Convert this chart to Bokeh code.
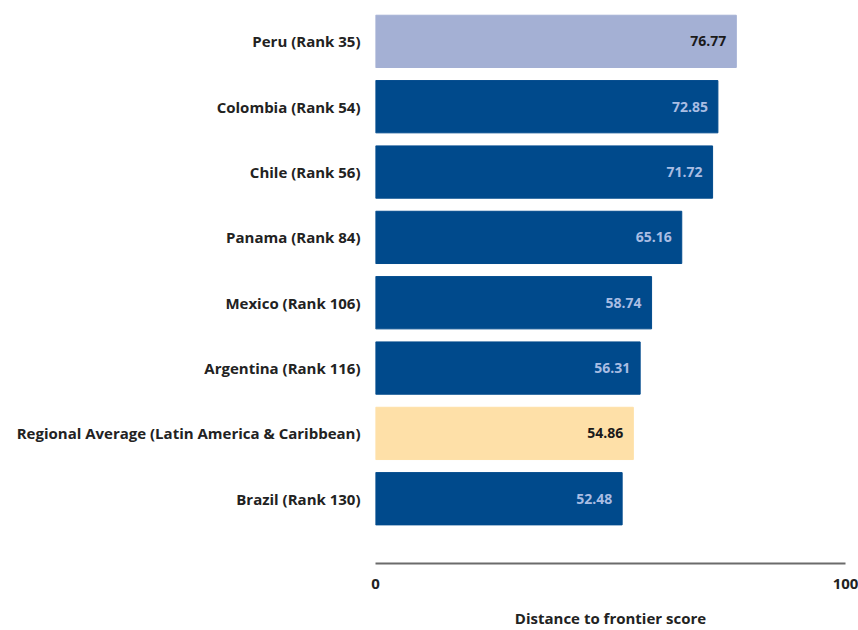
from bokeh.plotting import figure
from bokeh.models import ColumnDataSource, FixedTicker, Range1d
from bokeh.embed import file_html
from bokeh.resources import INLINE
from bokeh.core.properties import value

labels = ["Peru (Rank 35)", "Colombia (Rank 54)", "Chile (Rank 56)", "Panama (Rank 84)",
          "Mexico (Rank 106)", "Argentina (Rank 116)",
          "Regional Average (Latin America & Caribbean)", "Brazil (Rank 130)"]
scores = [76.77, 72.85, 71.72, 65.16, 58.74, 56.31, 54.86, 52.48]
kinds = ["peru", "country", "country", "country", "country", "country", "average", "country"]
x_ticks = [0, 100]
x_title = "Distance to frontier score"

fill_map = {"peru": "#a4b0d4", "country": "#004a8c", "average": "#fee0a8"}
text_map = {"peru": "#1a1a1a", "country": "#a9bde3", "average": "#1a1a1a"}

n = len(labels)
ypos = [n - 1 - i for i in range(n)]
src = ColumnDataSource(dict(
    y=ypos, score=scores,
    fill=[fill_map[k] for k in kinds],
    tcol=[text_map[k] for k in kinds],
    txt=[f"{s:.2f}" for s in scores],
))

FONT = "Open Sans"

p = figure(width=858, height=630, output_backend="svg", toolbar_location=None,
           x_range=Range1d(0, 100), y_range=Range1d(-0.991, 7.503),
           min_border_left=375, min_border_right=13, min_border_top=8, min_border_bottom=65)
p.outline_line_color = None
p.grid.visible = False
p.background_fill_color = "white"

p.hbar(y="y", left=0, right="score", height=0.8, fill_color="fill", line_color="fill", source=src)
p.text(x="score", y="y", text="txt", text_color="tcol", text_align="right", text_baseline="middle",
       x_offset=-10, text_font=value(FONT), text_font_style="bold", text_font_size="14px", source=src)

xa = p.xaxis[0]
xa.ticker = FixedTicker(ticks=x_ticks)
xa.major_tick_line_color = None
xa.minor_tick_line_color = None
xa.axis_line_color = "#6b6b6b"
xa.axis_line_width = 2
xa.major_label_standoff = 9
xa.major_label_text_font = FONT
xa.major_label_text_font_style = "bold"
xa.major_label_text_font_size = "15px"
xa.major_label_text_color = "#222222"
xa.axis_label = x_title
xa.axis_label_standoff = 16
xa.axis_label_text_font = FONT
xa.axis_label_text_font_style = "bold"
xa.axis_label_text_font_size = "15px"
xa.axis_label_text_color = "#222222"

ya = p.yaxis[0]
ya.ticker = FixedTicker(ticks=ypos)
ya.major_label_overrides = {y: lab for y, lab in zip(ypos, labels)}
ya.axis_line_color = None
ya.major_tick_line_color = None
ya.minor_tick_line_color = None
ya.major_label_standoff = 9
ya.major_label_text_font = FONT
ya.major_label_text_font_style = "bold"
ya.major_label_text_font_size = "15px"
ya.major_label_text_color = "#222222"

open("out.html", "w").write(file_html(p, INLINE))
